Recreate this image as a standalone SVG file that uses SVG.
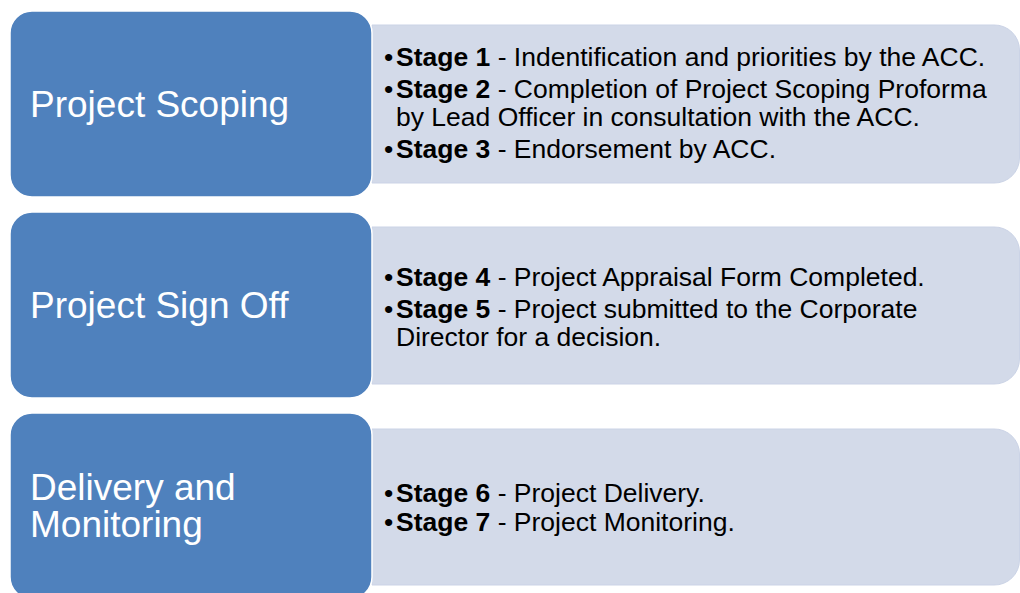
<svg xmlns="http://www.w3.org/2000/svg" width="1020" height="593" viewBox="0 0 1020 593">
<style>
.blue{fill:#4F81BD;stroke:#FFFFFF;stroke-width:1.5}
.pane{fill:#D3DAE9;stroke:#CBD3E6;stroke-width:1}
.title{font-family:"Liberation Sans",Arial,sans-serif;font-size:37px;fill:#FFFFFF}
.item{font-family:"Liberation Sans",Arial,sans-serif;font-size:26.5px;fill:#000000}
.b{font-weight:bold}
</style>
<rect width="1020" height="593" fill="#FFFFFF"/>
<g id="connectors"/>
<g id="pane1">
<path class="pane" d="M372,25 H994 A25,25 0 0 1 1019.5,50 V158 A25,25 0 0 1 994,183 H372 Z"/>
<text class="item"><tspan x="384" y="66">•</tspan><tspan x="396" y="66"><tspan class="b">Stage 1</tspan> - Indentification and priorities by the ACC.</tspan></text>
<text class="item"><tspan x="384" y="98">•</tspan><tspan x="396" y="98"><tspan class="b">Stage 2</tspan> - Completion of Project Scoping Proforma</tspan><tspan x="396" y="126">by Lead Officer in consultation with the ACC.</tspan></text>
<text class="item"><tspan x="384" y="158">•</tspan><tspan x="396" y="158"><tspan class="b">Stage 3</tspan> - Endorsement by ACC.</tspan></text>
</g>
<g id="pane2">
<path class="pane" d="M372,227 H994 A25,25 0 0 1 1019.5,252 V359 A25,25 0 0 1 994,384 H372 Z"/>
<text class="item"><tspan x="384" y="286">•</tspan><tspan x="396" y="286"><tspan class="b">Stage 4</tspan> - Project Appraisal Form Completed.</tspan></text>
<text class="item"><tspan x="384" y="318">•</tspan><tspan x="396" y="318"><tspan class="b">Stage 5</tspan> - Project submitted to the Corporate</tspan><tspan x="396" y="346">Director for a decision.</tspan></text>
</g>
<g id="pane3">
<path class="pane" d="M372,429 H994 A25,25 0 0 1 1019.5,454 V560 A25,25 0 0 1 994,585 H372 Z"/>
<text class="item"><tspan x="384" y="502">•</tspan><tspan x="396" y="502"><tspan class="b">Stage 6</tspan> - Project Delivery.</tspan></text>
<text class="item"><tspan x="384" y="531">•</tspan><tspan x="396" y="531"><tspan class="b">Stage 7</tspan> - Project Monitoring.</tspan></text>
</g>
<g id="node1">
<rect class="blue" x="10" y="11" width="362" height="186" rx="22" ry="22"/>
<text class="title" x="30" y="117">Project Scoping</text>
</g>
<g id="node2">
<rect class="blue" x="10" y="212" width="362" height="186" rx="22" ry="22"/>
<text class="title" x="30" y="318">Project Sign Off</text>
</g>
<g id="node3">
<rect class="blue" x="10" y="413" width="362" height="186" rx="22" ry="22"/>
<text class="title"><tspan x="30" y="500">Delivery and</tspan><tspan x="30" y="537">Monitoring</tspan></text>
</g>
</svg>
